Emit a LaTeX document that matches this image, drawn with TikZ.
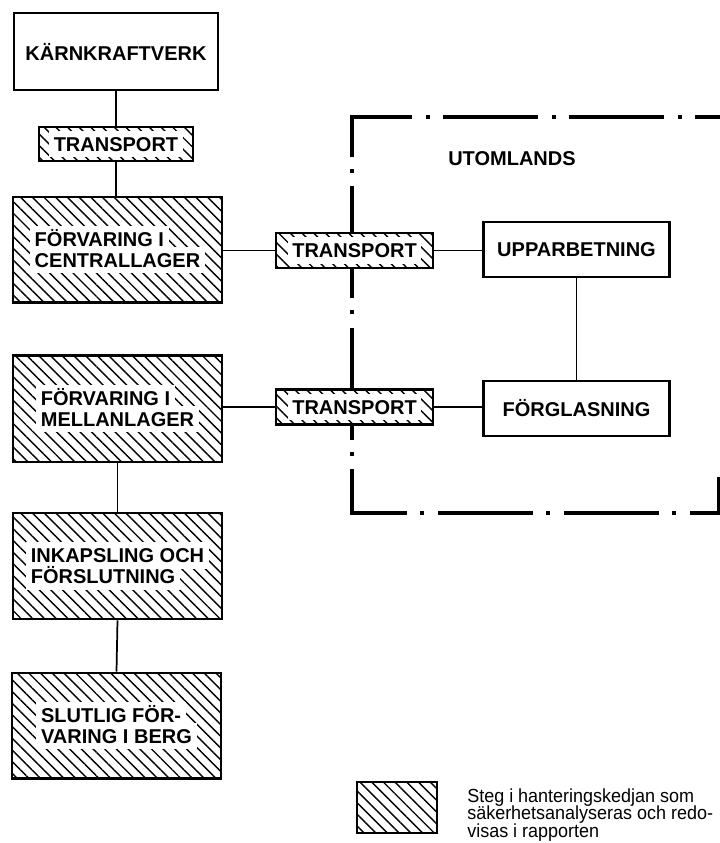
\documentclass[tikz,border=0pt]{standalone}
\usepackage{fontspec}
\setmainfont{Liberation Sans}
\newfontfamily\keyfont[FakeStretch=0.95]{Liberation Sans}
\usetikzlibrary{patterns.meta}

% white patch behind a line of text on a hatched box
\newcommand{\wbg}[1]{\raisebox{0pt}[13.2pt][2.5pt]{\setlength{\fboxsep}{2pt}\colorbox{white}{\rule[-2.5pt]{0pt}{15.7pt}\hspace{1.5pt}#1\hspace{1.5pt}}}}

\begin{document}
\begin{tikzpicture}[x=0.75pt,y=0.75pt,yscale=-1,xscale=1,
  plain/.style={draw,line width=2pt,inner sep=0pt,align=left,font=\fontsize{15}{15.75}\selectfont\bfseries},
  hatched/.style={plain,preaction={fill=white},pattern={Lines[angle=-45,distance=6.2pt,line width=1.05pt]}},
  link/.style={line width=1.3pt},
  frame/.style={line width=3pt}
]
\useasboundingbox (0,0) rectangle (720,843);

%Dash-dot frame (top, left, bottom)
\draw [frame,dash pattern=on 71pt off 10pt on 3pt off 10.5pt,dash phase=52.3pt] (720,117) -- (350,117) ;
\draw [frame,dash pattern=on 84pt off 9pt on 3pt off 10pt,dash phase=52.5pt] (352,115) -- (352,515) ;
\draw [frame,dash pattern=on 71pt off 10pt on 3pt off 10.5pt,dash phase=29.8pt] (352,513) -- (719,513) -- (719,477) ;

% Text Node
\draw (448,159) node [anchor=west][inner sep=0pt] [font=\fontsize{15}{16}\selectfont\bfseries] (utl) {UTOMLANDS};

% Boxes
\node [plain,minimum width=153pt,minimum height=57.75pt] (kk) at (116,51.5) {KÄRNKRAFTVERK};
\node [hatched,minimum width=115.5pt,minimum height=25.5pt] (t1) at (116,144) {\wbg{TRANSPORT}};
\node [hatched,minimum width=156.75pt,minimum height=79pt] (fc) at (117.5,249.5) {\wbg{FÖRVARING I}\\\wbg{CENTRALLAGER}};
\node [hatched,minimum width=117.75pt,minimum height=26.25pt] (t2) at (354.5,250.5) {\wbg{TRANSPORT}};
\node [plain,minimum width=139.5pt,minimum height=41.25pt] (up) at (576.5,249.5) {UPPARBETNING};
\node [hatched,minimum width=156.75pt,minimum height=80pt] (fm) at (117.5,408.5) {\wbg{FÖRVARING I}\\\wbg{MELLANLAGER}};
\node [hatched,minimum width=117.75pt,minimum height=26.25pt] (t3) at (354.5,407) {\wbg{TRANSPORT}};
\node [plain,minimum width=139.5pt,minimum height=41.25pt] (fg) at (576.5,408.5) {FÖRGLASNING};
\node [hatched,minimum width=156.75pt,minimum height=79.5pt] (ik) at (117.5,566) {\wbg{INKAPSLING OCH}\\\wbg{FÖRSLUTNING}};
\node [hatched,minimum width=156.75pt,minimum height=79pt] (sf) at (116.5,725.5) {\wbg{SLUTLIG FÖR-}\\\wbg{VARING I BERG}};

%Straight Lines
\draw [link] (kk.south -| t1.north) -- (t1.north) ;
\draw [link] (t1.south) -- (t1.south |- fc.north) ;
\draw [link] (fc.east |- t2.west) -- (t2.west) ;
\draw [link] (t2.east) -- (t2.east -| up.west) ;
\draw [link] (up.south) -- (fg.north) ;
\draw [link] (fm.east |- t3.west) -- (t3.west) ;
\draw [link] (t3.east) -- (t3.east -| fg.west) ;
\draw [link] (fm.south) -- (ik.north) ;
\draw [link] (ik.south) -- (sf.north) ;

% Legend
\node [hatched,minimum width=60pt,minimum height=38.25pt] (key) at (397,807.5) {};
\draw (467,837) node [anchor=base west][inner sep=0pt] [font={\fontsize{14.2}{13.1}\keyfont\setlength{\lineskiplimit}{-5pt}}] [align=left] (keytext) {Steg i hanteringskedjan som\\säkerhetsanalyseras och redo-\\visas i rapporten};

\end{tikzpicture}
\end{document}
